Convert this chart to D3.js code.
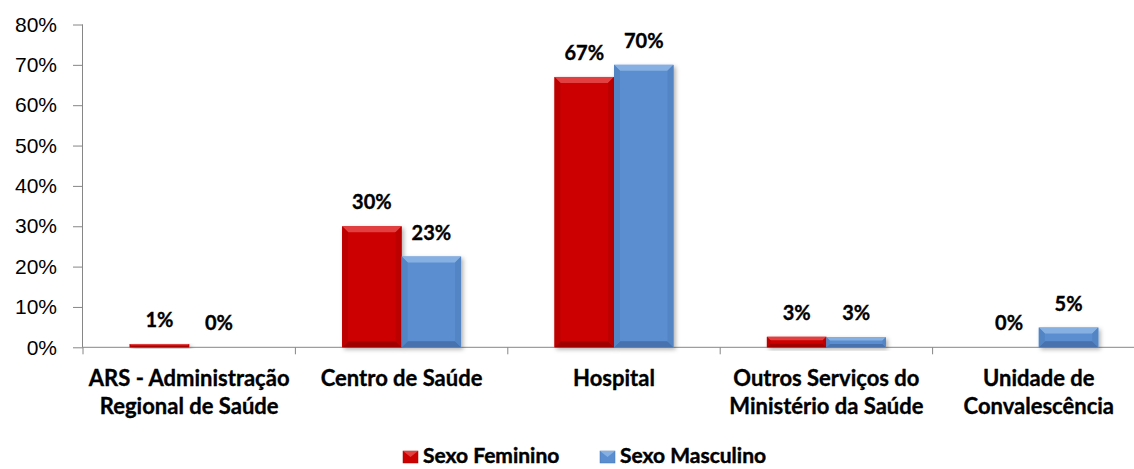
<!DOCTYPE html>
<html>
<head>
<meta charset="utf-8">
<script src="https://cdn.jsdelivr.net/npm/d3@7"></script>
<style>
  body { margin: 0; background: #fff; }
  svg { display: block; font-family: Lato, "Open Sans", sans-serif; }
  .tick-label { font-size: 21px; fill: #000; }
  .cat-label { font-size: 22px; font-weight: bold; fill: #000; stroke: #000; stroke-width: 0.35px; }
  .value-label { font-size: 20px; font-weight: bold; fill: #000; stroke: #000; stroke-width: 0.35px; }
  .legend-label { font-size: 21px; font-weight: bold; fill: #000; stroke: #000; stroke-width: 0.45px; }
</style>
</head>
<body>
<div class="chart"></div>
<script>
const categories = [
  ["ARS - Administração", "Regional de Saúde"],
  ["Centro de Saúde"],
  ["Hospital"],
  ["Outros Serviços do", "Ministério da Saúde"],
  ["Unidade de", "Convalescência"],
];
const seriesNames = ["Sexo Feminino", "Sexo Masculino"];
const feminino = [0.8, 30, 67, 2.6, 0];
const masculino = [0, 22.5, 70, 2.5, 4.9];
const yTicks = [0, 10, 20, 30, 40, 50, 60, 70, 80];

const width = 1134;
const height = 469;
const margin = { left: 83, top: 24.5, bottom: 347.3 };
const bandWidth = 212.4;

// colours for each series: main, top light, bottom dark, side
const palette = [
  { main: "#CC0000", light: "#E24040", dark: "#A00000", side: "#BC0000" },
  { main: "#5A8ED0", light: "#86B0E2", dark: "#4672AD", side: "#5284C4" },
];

const svg = d3
  .select(".chart")
  .append("svg")
  .attr("width", width)
  .attr("height", height);

const defs = svg.append("defs");
const shadow = defs.append("filter").attr("id", "shadow")
  .attr("x", "-20%").attr("y", "-20%").attr("width", "150%").attr("height", "150%");
shadow.append("feDropShadow")
  .attr("dx", 2).attr("dy", 2).attr("stdDeviation", 2)
  .attr("flood-color", "#000").attr("flood-opacity", 0.3);

const x = d3
  .scaleBand()
  .domain(d3.range(categories.length))
  .range([margin.left, margin.left + bandWidth * categories.length])
  .paddingInner(0)
  .paddingOuter(0);

const xInner = d3
  .scaleBand()
  .domain([0, 1])
  .range([46.7, bandWidth - 46.7]);

const y = d3.scaleLinear().domain([0, 80]).range([margin.bottom, margin.top]);

// y axis
const yAxis = svg
  .append("g")
  .attr("transform", `translate(${margin.left},0)`)
  .call(d3.axisLeft(y).tickValues(yTicks).tickSize(10).tickPadding(16).tickFormat((d) => d + "%"));
yAxis.select(".domain").attr("stroke", "#868686").attr("d", `M-0.5,${margin.top}V${margin.bottom}`);
yAxis.selectAll(".tick line").attr("stroke", "#868686");
yAxis.selectAll(".tick text")
  .attr("class", "tick-label")
  .attr("font-family", null)
  .attr("font-size", null);

// x axis
const xAxis = svg.append("g").attr("transform", `translate(0,${margin.bottom})`);
xAxis.append("line")
  .attr("x1", margin.left)
  .attr("x2", width)
  .attr("stroke", "#868686");
xAxis.selectAll(".xtick")
  .data(d3.range(categories.length + 1))
  .join("line")
  .attr("class", "xtick")
  .attr("x1", (d) => margin.left + d * bandWidth)
  .attr("x2", (d) => margin.left + d * bandWidth)
  .attr("y1", 0)
  .attr("y2", 7)
  .attr("stroke", "#868686");

xAxis.selectAll(".cat")
  .data(categories)
  .join("text")
  .attr("class", "cat-label")
  .attr("text-anchor", "middle")
  .attr("x", (d, i) => x(i) + bandWidth / 2)
  .attr("y", 38.5)
  .selectAll("tspan")
  .data((d) => d)
  .join("tspan")
  .attr("x", function () { return this.parentNode.getAttribute("x"); })
  .attr("dy", (d, i) => (i === 0 ? 0 : 28.5))
  .text((d) => d);

// bars with bevel
function drawBar(g, x0, w, v, colors) {
  const y0 = y(v);
  const h = margin.bottom - y0;
  if (h <= 0) return;
  const b = Math.min(6, h / 3, w / 2);
  const bar = g.append("g").attr("filter", "url(#shadow)");
  bar.append("rect")
    .attr("x", x0).attr("y", y0).attr("width", w).attr("height", h)
    .attr("fill", colors.main);
  const x1 = x0 + w;
  const y1 = margin.bottom;
  // top
  bar.append("path")
    .attr("d", `M${x0},${y0}L${x1},${y0}L${x1 - b},${y0 + b}L${x0 + b},${y0 + b}Z`)
    .attr("fill", colors.light);
  // bottom
  bar.append("path")
    .attr("d", `M${x0},${y1}L${x1},${y1}L${x1 - b},${y1 - b}L${x0 + b},${y1 - b}Z`)
    .attr("fill", colors.dark);
  // sides
  bar.append("path")
    .attr("d", `M${x0},${y0}L${x0 + b},${y0 + b}L${x0 + b},${y1 - b}L${x0},${y1}Z`)
    .attr("fill", colors.side);
  bar.append("path")
    .attr("d", `M${x1},${y0}L${x1 - b},${y0 + b}L${x1 - b},${y1 - b}L${x1},${y1}Z`)
    .attr("fill", colors.side);
}

const barsG = svg.append("g");
[feminino, masculino].forEach((series, s) => {
  series.forEach((v, i) => {
    drawBar(barsG, x(i) + xInner(s), xInner.bandwidth(), v, palette[s]);
  });
});

// value labels
const labelsG = svg.append("g");
[feminino, masculino].forEach((series, s) => {
  labelsG.selectAll(".v" + s)
    .data(series)
    .join("text")
    .attr("class", "value-label")
    .attr("text-anchor", "middle")
    .attr("x", (d, i) => x(i) + xInner(s) + xInner.bandwidth() / 2)
    .attr("y", (d) => y(d) - 17)
    .text((d) => Math.round(d) + "%");
});

// legend
const legend = svg.append("g").attr("transform", "translate(403,463)");
const legendX = [0, 197];
seriesNames.forEach((name, s) => {
  const lg = legend.append("g").attr("transform", `translate(${legendX[s]},0)`);
  lg.append("rect")
    .attr("x", 0).attr("y", -12).attr("width", 15).attr("height", 12)
    .attr("fill", palette[s].main).attr("stroke", palette[s].dark).attr("stroke-width", 0.5);
  lg.append("path")
    .attr("d", "M0,-12L15,-12L7.5,-6Z")
    .attr("fill", palette[s].light);
  lg.append("text")
    .attr("class", "legend-label")
    .attr("font-weight", "bold")
    .attr("x", 20)
    .attr("y", 0)
    .text(name);
});
</script>
</body>
</html>
